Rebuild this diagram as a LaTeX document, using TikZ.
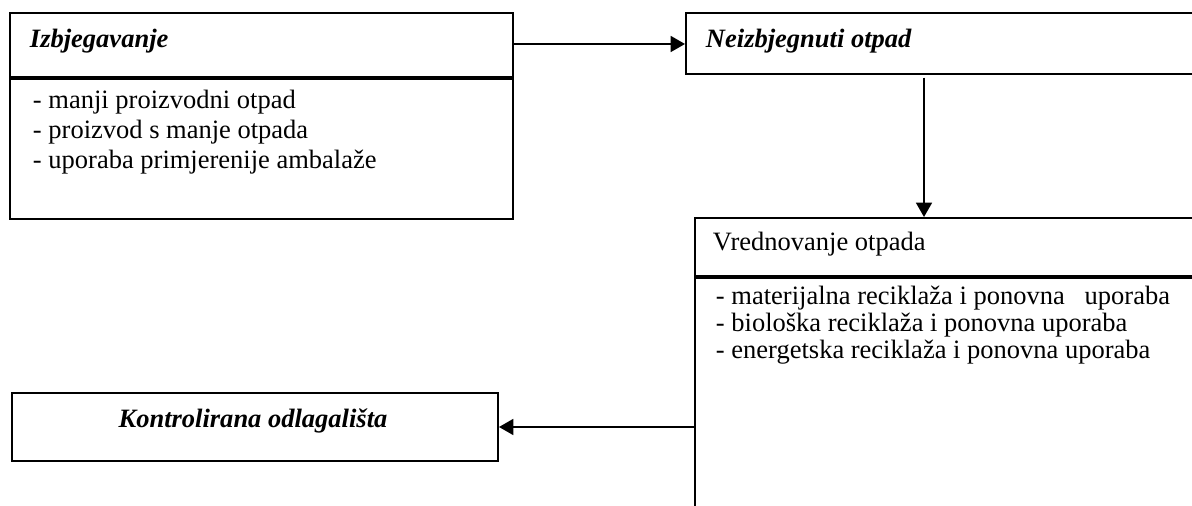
\documentclass[tikz,border=0pt]{standalone}
\usepackage{fontspec}
\setmainfont{Liberation Serif}
\usetikzlibrary{arrows.meta,positioning}
\def\px{0.4528pt}

\begin{document}
\begin{tikzpicture}[x=\px, y=-\px, line width=0.9pt, >={Triangle[length=6.5pt,width=7.2pt]}]
      \tikzstyle{every node}=[font=\fontsize{12}{13.8}\selectfont]
      \tikzstyle{frame}=[draw, rectangle, inner sep=0pt, anchor=north west]
      \tikzstyle{item}=[inner sep=0pt, anchor=base west]
      \tikzstyle{title}=[item, font=\fontsize{12}{13.8}\selectfont\bfseries\itshape]

      \clip (0,0) rectangle (1192,506);

      % Draw the boxes
      \node[frame, minimum width=503*\px, minimum height=63.5*\px] (I-head) at (9,12.5) {};
      \node[frame, minimum width=503*\px, minimum height=140*\px] (I-body) at (I-head.south west) {};
      \node[frame, minimum width=560*\px, minimum height=61*\px] (N-head) at (685,12.5) {};
      \node[frame, minimum width=560*\px, minimum height=58*\px] (V-head) at (694,217) {};
      \node[frame, minimum width=560*\px, minimum height=300*\px] (V-body) at (V-head.south west) {};
      \node[frame, minimum width=486*\px, minimum height=68*\px] (K) at (11,392) {};

      % Titles
      \node[title] (I-title) at (29,48) {Izbjegavanje};
      \node[title] (N-title) at (705,48) {Neizbjegnuti otpad};
      \node[item] (V-title) at (712,251) {Vrednovanje otpada};
      \node[title, anchor=base] (K-title) at (253,428) {Kontrolirana odlagališta};

      % List the items under each title
      \foreach \name/\y/\txt in {1/109/{- manji proizvodni otpad},
                                 2/139/{- proizvod s manje otpada},
                                 3/169/{- uporaba primjerenije ambalaže}}
          \node[item] (I-\name) at (32,\y) {\txt};
      \foreach \name/\y/\txt in {1/305/{- materijalna reciklaža i ponovna \ \ uporaba},
                                 2/332/{- biološka reciklaža i ponovna uporaba},
                                 3/359/{- energetska reciklaža i ponovna uporaba}}
          \node[item] (V-\name) at (715,\y) {\txt};

      % Connect the boxes
      \coordinate (N-out) at ([xshift=239*\px]N-head.south west);
      \draw[->] (I-head.east |- N-head.west) -- (N-head.west);
      \draw[->, shorten <=1pt] (N-out) -- (N-out |- V-head.north);
      \draw[->] (V-body.west |- K.east) -- (K.east);
\end{tikzpicture}
\end{document}
